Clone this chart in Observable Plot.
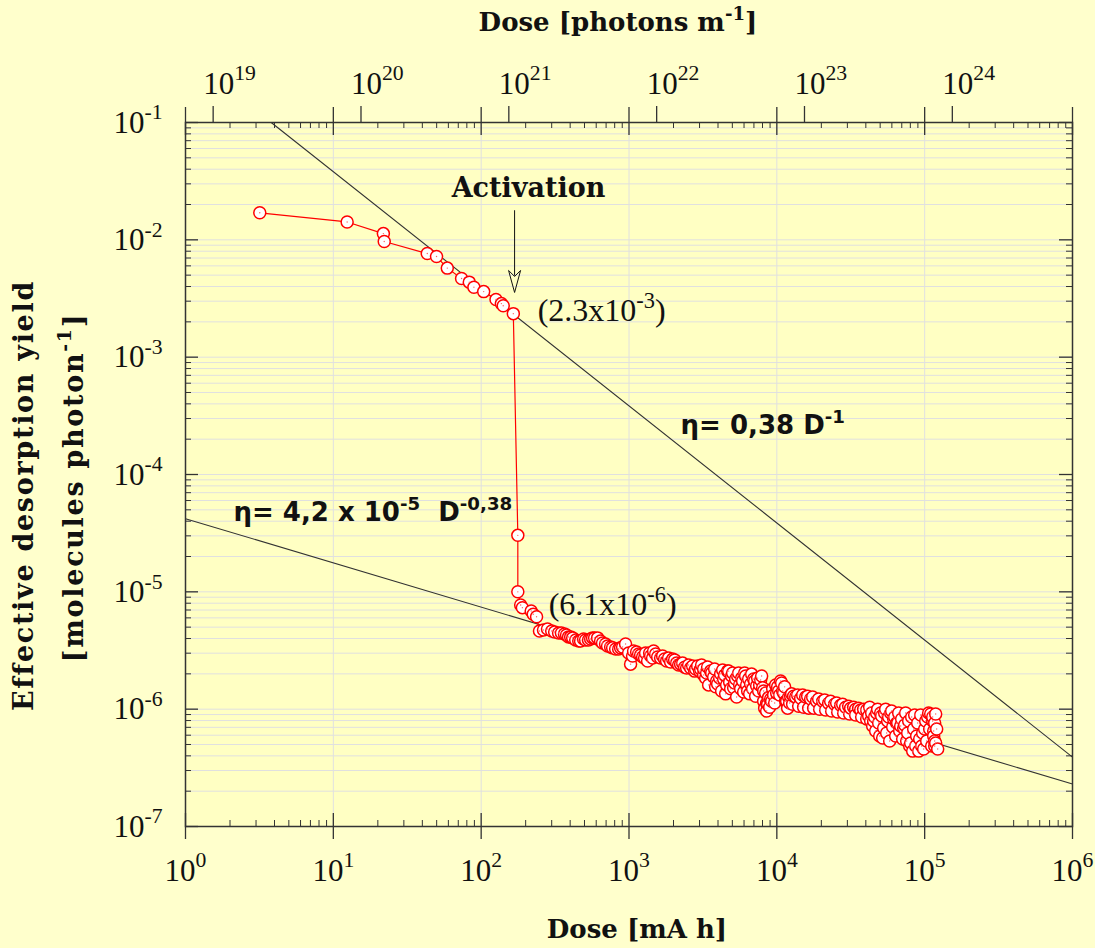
<!DOCTYPE html>
<html><head><meta charset="utf-8">
<script src="https://cdn.jsdelivr.net/npm/d3@7"></script>
<script src="https://cdn.jsdelivr.net/npm/@observablehq/plot@0.6"></script>
<style>
html,body{margin:0;padding:0;background:#ffffcc;}
#chart svg{display:block;}
</style></head><body><div id="chart"></div>
<script>
// ---------- data ----------
// Dose in mA h, effective desorption yield in molecules/photon
const doseConditioning = [3.18, 12.4, 21.8, 22.1, 43.2, 49.9, 59.0, 73.7, 83.1, 89.3, 104, 126, 137, 141, 165];
const yieldConditioning = [0.0170, 0.0142, 0.0113, 0.00967, 0.00764, 0.00720, 0.00574, 0.00468, 0.00436, 0.00395, 0.00362, 0.00310, 0.00286, 0.00274, 0.00235];

const doseActivation = [177, 177, 185, 190, 218, 225, 237];
const yieldActivation = [3.03e-5, 1.00e-5, 7.73e-6, 7.33e-6, 6.87e-6, 6.44e-6, 6.14e-6];

const doseTail = [248, 281, 314, 349, 378, 403, 436, 470, 508, 550,
  585, 613, 662, 716, 775, 851, 905, 948, 994, 1025,
  1074, 1161, 1236, 1295, 1336, 1400, 1467, 1562, 1688, 1796,
  1973, 2099, 2234, 2378, 2531, 2611, 2779, 2912, 3051, 3197,
  3350, 3566, 3737, 3915, 4167, 4367, 4575, 4721, 4945, 5183,
  5431, 5690, 5870, 6151, 6347, 6649, 6968, 7301, 7771, 8143,
  8272, 8533, 8804, 9081, 9369, 9817, 10290, 10780, 11120, 11650,
  12400, 13410, 14490, 15670, 16930, 18590, 20420, 22420, 24610, 27020,
  29210, 31570, 34130, 36900, 40520, 41800, 43110, 45170, 47330, 50380,
  51980, 53620, 57080, 58880, 61700, 64650, 68800, 72100, 75540, 79170,
  82950, 85580, 88280, 91090, 95440, 100000, 104800, 109800, 113300, 115100,
  116900, 116900, 118700];
const yieldTail = [4.64e-6, 4.83e-6, 4.55e-6, 4.46e-6, 4.29e-6, 4.13e-6, 3.89e-6, 3.81e-6, 3.89e-6, 3.96e-6,
  4.05e-6, 4.05e-6, 3.66e-6, 3.46e-6, 3.33e-6, 3.26e-6, 3.39e-6, 3.59e-6, 3.01e-6, 2.42e-6,
  3.13e-6, 2.95e-6, 2.78e-6, 3.01e-6, 2.57e-6, 2.84e-6, 3.13e-6, 2.78e-6, 2.84e-6, 2.57e-6,
  2.67e-6, 2.47e-6, 2.42e-6, 2.28e-6, 2.38e-6, 2.24e-6, 2.11e-6, 2.33e-6, 2.19e-6, 1.96e-6,
  2.03e-6, 2.11e-6, 1.88e-6, 1.74e-6, 2.00e-6, 1.81e-6, 1.61e-6, 2.11e-6, 1.92e-6, 1.67e-6,
  1.92e-6, 1.49e-6, 1.74e-6, 1.92e-6, 1.43e-6, 1.64e-6, 1.81e-6, 1.58e-6, 1.77e-6, 1.43e-6,
  1.02e-6, 1.12e-6, 1.26e-6, 1.22e-6, 1.49e-6, 1.61e-6, 1.43e-6, 1.67e-6, 1.37e-6, 1.17e-6,
  1.29e-6, 1.27e-6, 1.24e-6, 1.27e-6, 1.22e-6, 1.17e-6, 1.17e-6, 1.12e-6, 1.10e-6, 1.08e-6,
  1.04e-6, 1.02e-6, 1.00e-6, 9.83e-7, 9.83e-7, 8.74e-7, 7.92e-7, 7.92e-7, 9.27e-7, 9.27e-7,
  5.67e-7, 9.27e-7, 8.57e-7, 9.27e-7, 8.24e-7, 7.62e-7, 7.18e-7, 6.90e-7, 5.35e-7, 4.85e-7,
  4.39e-7, 8.91e-7, 5.90e-7, 4.39e-7, 4.85e-7, 6.77e-7, 8.57e-7, 9.09e-7, 7.92e-7, 6.51e-7,
  5.35e-7, 4.85e-7, 9.09e-7];

// further repeated measurements in the long-dose tail
const doseTailEarly = [264, 300, 334, 366, 390, 416, 457, 493, 532, 567, 642, 694, 751, 812, 877,
  1057, 1126, 1198, 1275, 1379, 1444, 1514, 1636, 1741, 1853, 1912, 2035, 2166, 2305, 2453, 2694, 2823, 3004];
const yieldTailEarly = [4.73e-6, 4.64e-6, 4.46e-6, 4.37e-6, 4.13e-6, 4.05e-6, 3.81e-6, 3.97e-6, 3.89e-6, 4.05e-6, 3.81e-6, 3.59e-6, 3.39e-6, 3.26e-6, 3.33e-6,
  2.84e-6, 3.07e-6, 2.90e-6, 2.73e-6, 3.01e-6, 2.73e-6, 2.95e-6, 2.73e-6, 2.68e-6, 2.73e-6, 2.52e-6, 2.63e-6, 2.38e-6, 2.47e-6, 2.24e-6, 2.33e-6, 2.20e-6, 2.11e-6];

const doseTailMid = [3099, 3197, 3298, 3403, 3456, 3622, 3796, 3855, 3978, 4103, 4232, 4299, 4435, 4505, 4648, 4795,
  4869, 5023, 5102, 5264, 5347, 5516, 5603, 5779, 5963, 6056, 6248, 6446, 6547, 6753, 6860, 7077, 7188, 7416, 7533, 7651, 7893,
  8017, 8143, 8401, 8533, 8668, 8942, 9224, 9516, 9666, 9972, 10130, 10450, 10610, 10950, 11290, 11470, 11830, 12020, 12210, 12590];
const yieldTailMid = [2.38e-6, 2.20e-6, 1.84e-6, 2.29e-6, 1.61e-6, 2.03e-6, 2.20e-6, 1.55e-6, 1.64e-6, 1.84e-6, 1.43e-6, 2.16e-6, 1.95e-6, 1.35e-6, 2.11e-6, 1.70e-6,
  1.49e-6, 2.03e-6, 1.52e-6, 1.81e-6, 1.27e-6, 2.03e-6, 1.61e-6, 1.84e-6, 1.40e-6, 2.03e-6, 1.61e-6, 1.81e-6, 1.35e-6, 1.99e-6, 1.49e-6, 1.74e-6, 1.29e-6, 1.84e-6, 1.43e-6, 1.61e-6, 1.92e-6,
  1.52e-6, 1.17e-6, 1.37e-6, 9.64e-7, 1.10e-6, 1.04e-6, 1.17e-6, 1.32e-6, 1.13e-6, 1.37e-6, 1.55e-6, 1.32e-6, 1.74e-6, 1.43e-6, 1.55e-6, 1.17e-6, 1.02e-6, 1.27e-6, 1.13e-6, 1.35e-6];

const doseTailLate = [12990, 13830, 14950, 16160, 17470, 19180, 21060, 23120, 25390, 27880, 30610, 33080, 35770, 38670,
  12790, 14050, 15180, 16420, 17740, 19480, 21390, 23480, 25790, 28310, 31090, 34130, 37480, 40520];
const yieldTailLate = [1.29e-6, 1.32e-6, 1.32e-6, 1.29e-6, 1.27e-6, 1.22e-6, 1.20e-6, 1.17e-6, 1.13e-6, 1.10e-6, 1.06e-6, 1.04e-6, 1.02e-6, 1.00e-6,
  1.10e-6, 1.06e-6, 1.04e-6, 1.02e-6, 1.02e-6, 1.00e-6, 9.83e-7, 9.64e-7, 9.45e-7, 9.27e-7, 9.09e-7, 8.91e-7, 8.57e-7, 8.24e-7];

const doseTailEnd = [42460, 43790, 44480, 45890, 46610, 48090, 48840, 49610, 51170, 52790, 54470, 55320, 56190, 57970,
  59800, 60750, 62670, 63660, 65680, 66700, 67750, 69880, 70980, 73230, 74380, 76740, 77940, 80400, 81660, 84250,
  86920, 89680, 92520, 93960, 96940, 98460, 101600, 103200, 106400, 108100, 111500, 113300, 115100, 116900, 118700, 120600, 122500];
const yieldTailEnd = [1.04e-6, 9.27e-7, 7.18e-7, 8.57e-7, 6.51e-7, 1.00e-6, 7.62e-7, 5.90e-7, 8.74e-7, 6.90e-7, 1.00e-6, 6.26e-7, 7.92e-7, 5.35e-7,
  9.64e-7, 7.04e-7, 8.57e-7, 5.90e-7, 7.62e-7, 9.27e-7, 6.51e-7, 8.24e-7, 5.56e-7, 7.32e-7, 9.27e-7, 6.26e-7, 7.92e-7, 5.14e-7, 8.57e-7, 6.77e-7,
  4.85e-7, 7.62e-7, 5.56e-7, 8.91e-7, 6.26e-7, 4.58e-7, 7.92e-7, 5.35e-7, 9.27e-7, 6.77e-7, 4.85e-7, 8.57e-7, 5.90e-7, 7.62e-7, 5.14e-7, 6.77e-7, 4.58e-7];

// fitted power laws, endpoints
const fitSteepDose = [3.8, 1e6];
const fitSteepYield = [0.1, 3.9e-7];
const fitShallowDose = [1, 1e6];
const fitShallowYield = [4.2e-5, 2.3e-7];

// axes
const xExponents = [0, 1, 2, 3, 4, 5, 6];
const yExponents = [-7, -6, -5, -4, -3, -2, -1];
const topExponents = [19, 20, 21, 22, 23, 24];
const minorMultipliers = [2, 3, 4, 5, 6, 7, 8, 9];
const photonsPerMAh = 6.5e18; // photons m^-1 per mA h

// ---------- build tables ----------
const zip = (ds, ys) => ds.map((d, i) => ({dose: d, eta: ys[i]}));
const head = [...zip(doseConditioning, yieldConditioning), ...zip(doseActivation, yieldActivation)];
const tail = [
  ...zip(doseTail, yieldTail), ...zip(doseTailEarly, yieldTailEarly), ...zip(doseTailMid, yieldTailMid),
  ...zip(doseTailLate, yieldTailLate), ...zip(doseTailEnd, yieldTailEnd)
].sort((a, b) => a.dose - b.dose);
const points = [...head, ...tail];
const fitSteep = zip(fitSteepDose, fitSteepYield);
const fitShallow = zip(fitShallowDose, fitShallowYield);

const xMajor = xExponents.map(e => 10 ** e);
const yMajor = yExponents.map(e => 10 ** e);
const xMinor = xExponents.slice(0, -1).flatMap(e => minorMultipliers.map(m => m * 10 ** e));
const yMinor = yExponents.slice(0, -1).flatMap(e => minorMultipliers.map(m => m * 10 ** e));
const xLo = 1, xHi = 1e6, yLo = 1e-7, yHi = 1e-1;

const tickColor = "#333";
const serif = "Liberation Serif";
const boldSerif = "DejaVu Serif";
const boldSans = "DejaVu Sans";

const arrowHead = {
  draw(context) {
    context.moveTo(0, 0);
    context.lineTo(-6, -22);
    context.lineTo(0, -16);
    context.lineTo(6, -22);
    context.closePath();
  }
};

const plot = Plot.plot({
  width: 1095, height: 948,
  marginLeft: 185, marginRight: 23, marginTop: 122, marginBottom: 122,
  style: {background: "#ffffcc", overflow: "visible"},
  x: {type: "log", domain: [xLo, xHi], axis: null},
  y: {type: "log", domain: [yLo, yHi], axis: null},
  marks: [
    Plot.frame({fill: "#ffffc3", stroke: null}),
    // grid
    Plot.ruleY([...yMinor, ...yMajor], {y: d => d, stroke: "#e0e0e0", strokeWidth: 1}),
    Plot.ruleX(xMajor, {x: d => d, stroke: "#e0e0e0", strokeWidth: 1}),
    // fits
    Plot.line(fitSteep, {x: "dose", y: "eta", stroke: "#333", strokeWidth: 1.1}),
    Plot.line(fitShallow, {x: "dose", y: "eta", stroke: "#333", strokeWidth: 1.1}),
    // data
    Plot.line(points, {x: "dose", y: "eta", stroke: "#ff0000", strokeWidth: 1.2}),
    Plot.dot(points, {x: "dose", y: "eta", r: 6, fill: "white", stroke: "#ff0000", strokeWidth: 1.5}),
    Plot.dot(points, {x: "dose", y: "eta", r: 0.7, fill: "#ff6060", stroke: null}),
    // ticks bottom/top
    Plot.ruleX(xMajor, {x: d => d, y1: yLo, y2: yLo, insetTop: -13, insetBottom: -13, stroke: tickColor, strokeWidth: 1.3}),
    Plot.ruleX(xMinor, {x: d => d, y1: yLo, y2: yLo, insetTop: -6, insetBottom: 0, stroke: tickColor}),
    Plot.ruleX(xMajor, {x: d => d, y1: yHi, y2: yHi, insetTop: -15, insetBottom: -13, stroke: tickColor, strokeWidth: 1.3}),
    Plot.ruleX(xMinor, {x: d => d, y1: yHi, y2: yHi, insetTop: 0, insetBottom: -6, stroke: tickColor}),
    Plot.ruleX(topExponents, {x: e => 10 ** e / photonsPerMAh, y1: yHi, y2: yHi, insetTop: -16, insetBottom: 0, stroke: tickColor, strokeWidth: 1.3}),
    // ticks left/right
    Plot.ruleY(yMajor, {y: d => d, x1: xLo, x2: xLo, insetLeft: 0, insetRight: -13, stroke: tickColor, strokeWidth: 1.3}),
    Plot.ruleY(yMinor, {y: d => d, x1: xLo, x2: xLo, insetLeft: 0, insetRight: -6, stroke: tickColor}),
    Plot.ruleY(yMajor, {y: d => d, x1: xHi, x2: xHi, insetLeft: -13, insetRight: 0, stroke: tickColor, strokeWidth: 1.3}),
    Plot.ruleY(yMinor, {y: d => d, x1: xHi, x2: xHi, insetLeft: -6, insetRight: 0, stroke: tickColor}),
    Plot.frame({stroke: "#333", strokeWidth: 1.5}),
    // tick labels
    Plot.text(xExponents, {x: e => 10 ** e, y: yLo, text: e => `10^{${e}}`, dy: 54, lineAnchor: "bottom", textAnchor: "middle", fontFamily: serif, fontSize: 31, fill: "#111"}),
    Plot.text(yExponents, {x: xLo, y: e => 10 ** e, text: e => `10^{${e}}`, dx: -23, dy: 10, lineAnchor: "bottom", textAnchor: "end", fontFamily: serif, fontSize: 31, fill: "#111"}),
    Plot.text(topExponents, {x: e => 10 ** e / photonsPerMAh, y: yHi, text: e => `10^{${e}}`, dx: -10, dy: -29, lineAnchor: "bottom", textAnchor: "start", fontFamily: serif, fontSize: 31, fill: "#111"}),
    // axis titles
    Plot.text(["Dose [mA h]"], {frameAnchor: "bottom", text: d => d, dx: 8, dy: 111, lineAnchor: "bottom", textAnchor: "middle", fontFamily: boldSerif, fontWeight: "bold", fontSize: 26, fill: "#111"}),
    Plot.text(["Dose [photons m^{-1}]"], {frameAnchor: "top", text: d => d, dx: -11, dy: -92, lineAnchor: "bottom", textAnchor: "middle", fontFamily: boldSerif, fontWeight: "bold", fontSize: 26, fill: "#111"}),
    Plot.text(["Effective desorption yield"], {frameAnchor: "left", text: d => d, rotate: -90, dx: -153, dy: 21, lineAnchor: "bottom", textAnchor: "middle", fontFamily: boldSerif, fontWeight: "bold", fontSize: 27, fill: "#111"}),
    Plot.text(["[molecules photon^{-1}]"], {frameAnchor: "left", text: d => d, rotate: -90, dx: -103, dy: 13, lineAnchor: "bottom", textAnchor: "middle", fontFamily: boldSerif, fontWeight: "bold", fontSize: 27, fill: "#111"}),
    // annotations
    Plot.text(["Activation"], {x: 209, y: 0.0272, text: d => d, lineAnchor: "middle", textAnchor: "middle", fontFamily: boldSerif, fontWeight: "bold", fontSize: 27, fill: "#111"}),
    Plot.ruleX([168.3], {x: d => d, y1: 0.0177, y2: 4.9e-3, stroke: "#111", strokeWidth: 1}),
    Plot.dot([0], {x: 168.3, y: 3.56e-3, symbol: arrowHead, fill: "none", stroke: "#111", strokeWidth: 1}),
    Plot.text(["(2.3x10^{-3})"], {x: 241, y: 2.48e-3, text: d => d, lineAnchor: "middle", textAnchor: "start", fontFamily: serif, fontSize: 32, fill: "#111"}),
    Plot.text(["(6.1x10^{-6})"], {x: 286, y: 7.73e-6, text: d => d, lineAnchor: "middle", textAnchor: "start", fontFamily: serif, fontSize: 32, fill: "#111"}),
    Plot.text(["η= 0,38 D^{-1}"], {x: 2234, y: 2.6e-4, text: d => d, lineAnchor: "middle", textAnchor: "start", fontFamily: boldSans, fontWeight: "bold", fontSize: 26, fill: "#111"}),
    Plot.text(["η= 4,2 x 10^{-5}\u00a0\u00a0D^{-0,38}"], {x: 2.11, y: 4.71e-5, text: d => d, lineAnchor: "middle", textAnchor: "start", fontFamily: boldSans, fontWeight: "bold", fontSize: 26, fill: "#111"})
  ]
});

document.getElementById("chart").append(plot);

// wider letter spacing for the y-axis titles (the original face is broader)
plot.querySelectorAll("text").forEach(t => {
  const s = t.textContent;
  if (s.startsWith("Effective") || s.startsWith("[molecules")) {
    t.setAttribute("letter-spacing", "1.7");
    t.style.letterSpacing = "1.7px";
  }
});

// superscripts: "^{...}" -> raised tspans
(function supify(svg) {
  const ns = "http://www.w3.org/2000/svg";
  const r = 0.7, h = 0.42;
  svg.querySelectorAll("text").forEach(t => {
    const s = t.textContent;
    if (!s.includes("^{")) return;
    const parts = s.split(/\^\{([^}]*)\}/);
    t.textContent = "";
    let raised = false;
    parts.forEach((p, i) => {
      if (p === "") return;
      const ts = document.createElementNS(ns, "tspan");
      if (i % 2 === 1) {
        ts.setAttribute("font-size", r + "em");
        ts.setAttribute("dy", (-h / r).toFixed(3) + "em");
        raised = true;
      } else if (raised) {
        ts.setAttribute("dy", h + "em");
        raised = false;
      }
      ts.textContent = p;
      t.appendChild(ts);
    });
  });
})(plot);
</script>
</body></html>
